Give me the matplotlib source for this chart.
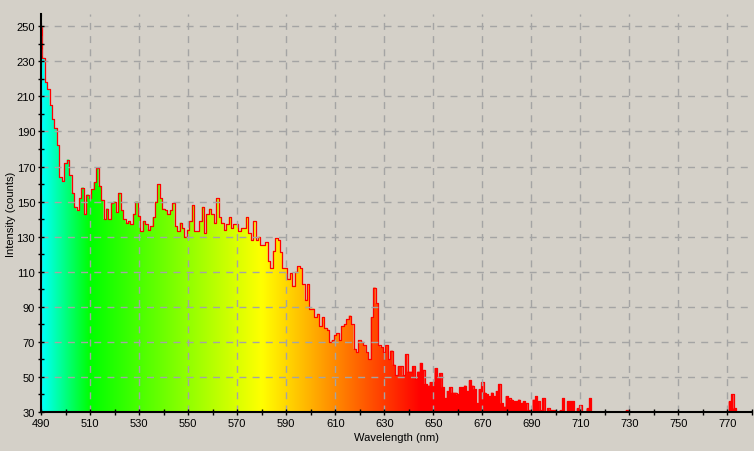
import numpy as np
import matplotlib
matplotlib.use("Agg")
import matplotlib.pyplot as plt

plt.rcParams['font.family'] = ['Liberation Sans', 'DejaVu Sans']

# ---------------- data ----------------
wl_start = 490
wl_stop = 780
intensity = [
    250, 232, 218, 214, 205, 197, 192, 182, 164, 162,   # 490-499
    172, 174, 165, 155, 147, 145, 152, 158, 143, 154,   # 500-509
    152, 157, 161, 169, 159, 151, 140, 146, 140, 149,   # 510-519
    150, 144, 155, 145, 140, 138, 139, 137, 143, 150,   # 520-529
    142, 133, 139, 137, 134, 136, 141, 150, 160, 152,   # 530-539
    146, 145, 143, 145, 149, 136, 133, 138, 135, 130,   # 540-549
    134, 139, 148, 133, 133, 139, 147, 132, 143, 146,   # 550-559
    143, 138, 152, 141, 138, 134, 137, 141, 135, 137,   # 560-569
    137, 133, 135, 135, 141, 132, 128, 139, 128, 130,   # 570-579
    125, 125, 127, 116, 112, 122, 129, 128, 121, 112,   # 580-589
    112, 106, 109, 102, 110, 113, 112, 103, 94, 103,    # 590-599
    89, 89, 84, 86, 79, 84, 78, 77, 70, 71,             # 600-609
    74, 75, 71, 79, 80, 83, 85, 80, 66, 64,             # 610-619
    71, 70, 68, 64, 60, 84, 101, 92, 68, 67,            # 620-629
    64, 68, 60, 65, 57, 51, 56, 56, 51, 63,             # 630-639
    53, 53, 56, 49, 53, 58, 54, 46, 45, 47,             # 640-649
    47, 55, 50, 52, 44, 38, 42, 44, 41, 41,             # 650-659
    40, 44, 44, 45, 42, 48, 45, 43, 35, 43,             # 660-669
    47, 41, 40, 39, 41, 39, 42, 46, 35, 33,             # 670-679
    39, 38, 37, 36, 36, 37, 35, 36, 35, 31,             # 680-689
    30, 37, 39, 36, 31, 38, 30, 32, 31, 31,             # 690-699
    30, 30, 31, 38, 30, 36, 36, 36, 30, 32,             # 700-709
    34, 30, 30, 32, 38, 30, 30, 30, 30, 30,             # 710-719
    30, 30, 30, 30, 30, 30, 30, 30, 30, 31,             # 720-729
    30, 30, 30, 30, 30, 30, 30, 30, 30, 30,             # 730-739
    30, 30, 30, 30, 30, 30, 30, 30, 30, 30,             # 740-749
    30, 30, 30, 30, 30, 30, 30, 30, 30, 30,             # 750-759
    30, 30, 30, 30, 30, 30, 30, 30, 30, 30,             # 760-769
    30, 36, 40, 32, 30, 30, 30, 30, 30, 30,             # 770-779
    30,                                                 # 780
]
x_major = [490, 510, 530, 550, 570, 590, 610, 630, 650, 670, 690, 710, 730, 750, 770]
y_major = [30, 50, 70, 90, 110, 130, 150, 170, 190, 210, 230, 250]
x_label = "Wavelength (nm)"
y_label = "Intensity (counts)"

wl = np.arange(wl_start, wl_stop + 1)
vals = np.array(intensity, dtype=float)
y_min, y_max = 30, 257

# ------------- spectral colour map -------------
def wl_rgb(w):
    w = np.asarray(w, dtype=float)
    r = np.zeros_like(w); g = np.zeros_like(w); b = np.zeros_like(w)
    m = w < 510
    b[m] = np.clip((510 - w[m]) / 20.0, 0, 1); g[m] = 1
    m = (w >= 510) & (w < 580)
    r[m] = (w[m] - 510) / 70.0; g[m] = 1
    m = (w >= 580) & (w < 645)
    r[m] = 1; g[m] = (645 - w[m]) / 65.0
    m = w >= 645
    r[m] = 1
    return np.stack([r, g, b], axis=-1)

bg = '#d4d0c8'
fig = plt.figure(figsize=(7.54, 4.52), dpi=100, facecolor=bg)
ax = fig.add_axes([41/754, 39/452, 711/754, 398/452])
ax.set_facecolor(bg)

grad_w = np.linspace(wl_start, wl_stop, 1200)
img = wl_rgb(grad_w)[np.newaxis, :, :]
im = ax.imshow(img, extent=[wl_start, wl_stop, y_min, y_max], aspect='auto',
               origin='lower', zorder=1, interpolation='bilinear')

poly = ax.fill_between(wl, y_min, vals, step='mid', facecolor='none',
                       edgecolor='none', zorder=1)
clip = poly.get_paths()[0]
im.set_clip_path(clip, transform=ax.transData)

ax.plot(wl, vals, drawstyle='steps-mid', color='#ff0000', lw=0.9, zorder=2)

ax.set_xlim(wl_start, wl_stop)
ax.set_ylim(y_min, y_max)
ax.set_xticks(x_major)
ax.set_xticks(np.arange(wl_start, wl_stop + 1, 10), minor=True)
ax.set_yticks(y_major)
ax.set_yticks(np.arange(30, 257, 10), minor=True)
ax.tick_params(which='both', direction='inout', length=4.5, width=1.0,
               color='black', labelsize=8, pad=2)
ax.tick_params(axis='y', which='both', pad=2)

ax.grid(which='major', color='#a4a4a4', linestyle=(0, (5, 4.5)), lw=1.0, zorder=2.5)
ax.set_axisbelow(False)

for s in ['top', 'right']:
    ax.spines[s].set_visible(False)
for s in ['left', 'bottom']:
    ax.spines[s].set_linewidth(1.5)
    ax.spines[s].set_zorder(5)

ax.set_xlabel(x_label, fontsize=8, labelpad=3)
fig.text(11/754, 1 - 214/452, y_label, rotation=90, ha='center', va='center',
         fontsize=8)

fig.savefig('out.png', dpi=100, facecolor=bg)
